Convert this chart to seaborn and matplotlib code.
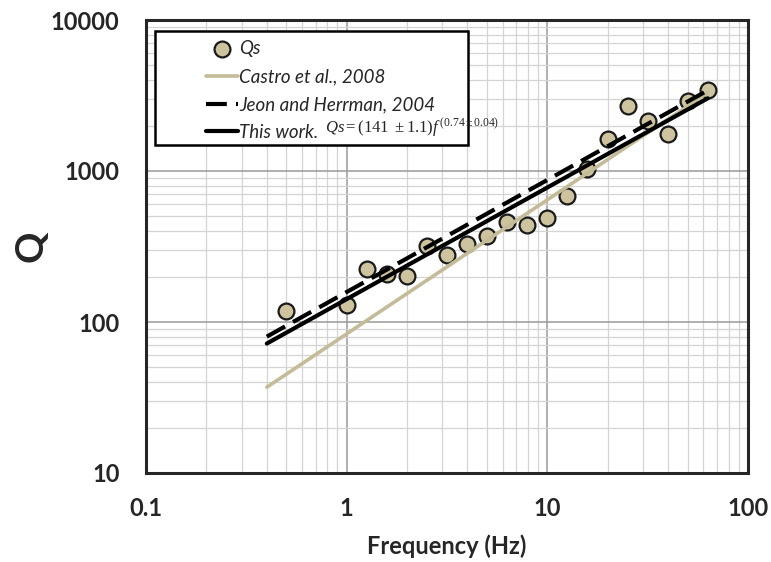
import numpy as np
import pandas as pd
import matplotlib
matplotlib.use('Agg')
import matplotlib.pyplot as plt
import seaborn as sns
from matplotlib.patches import Rectangle
from matplotlib.ticker import LogLocator, FixedLocator, FixedFormatter, NullFormatter

# Qs observations
freq = [0.5, 1.0, 1.26, 1.58, 2.0, 2.51, 3.16, 3.98, 5.01, 6.31,
        7.94, 10.0, 12.6, 15.8, 20.0, 25.1, 31.6, 39.8, 50.1, 63.1]
qs = [119, 130, 225, 208, 203, 320, 279, 328, 372, 462,
      440, 492, 678, 1028, 1630, 2680, 2130, 1770, 2920, 3430]

# model lines (end points)
castro_f = [0.4, 63]
castro_q = [37, 3300]
jeon_f = [0.4, 63]
jeon_q = [80, 3420]
this_f = [0.4, 63]
this_q = [72, 3030]

df = pd.DataFrame({'f': freq, 'Q': qs})

sns.set_style('white')
plt.rcParams['font.family'] = ['Lato', 'DejaVu Sans']
plt.rcParams['mathtext.fontset'] = 'custom'
plt.rcParams['mathtext.rm'] = 'Liberation Serif'
plt.rcParams['mathtext.it'] = 'Liberation Serif:italic'

W, H = 771, 562
fig = plt.figure(figsize=(W / 100, H / 100), dpi=100)
ax = fig.add_axes([146 / W, 1 - 473 / H, 602 / W, 453 / H])
ax.set_xscale('log')
ax.set_yscale('log')
ax.set_xlim(0.1, 100)
ax.set_ylim(10, 10000)

sns.scatterplot(data=df, x='f', y='Q', ax=ax, s=130, color='#cdc49f',
                edgecolor='#1a1a1a', linewidth=1.6, zorder=3, label='Qs')
sns.lineplot(x=castro_f, y=castro_q, ax=ax, color='#c4bc98', lw=2.6,
             zorder=4, label='Castro et al., 2008')
sns.lineplot(x=jeon_f, y=jeon_q, ax=ax, color='black', lw=3,
             zorder=4, label='Jeon and Herrman, 2004')
ax.lines[-1].set_dashes((5, 2.2))
sns.lineplot(x=this_f, y=this_q, ax=ax, color='black', lw=3,
             zorder=4, label='This work.')

# grid
ax.xaxis.set_minor_locator(LogLocator(base=10, subs=np.arange(2, 10)))
ax.yaxis.set_minor_locator(LogLocator(base=10, subs=np.arange(2, 10)))
ax.xaxis.set_minor_formatter(NullFormatter())
ax.yaxis.set_minor_formatter(NullFormatter())
ax.xaxis.set_major_locator(FixedLocator([0.1, 1, 10, 100]))
ax.xaxis.set_major_formatter(FixedFormatter(['0.1', '1', '10', '100']))
ax.yaxis.set_major_locator(FixedLocator([10, 100, 1000, 10000]))
ax.yaxis.set_major_formatter(FixedFormatter(['10', '100', '1000', '10000']))
ax.grid(which='major', color='#9a9a9a', lw=1.1, zorder=0)
ax.grid(which='minor', color='#d4d4d4', lw=0.9, zorder=0)
ax.set_axisbelow(True)
ax.tick_params(which='both', length=0, labelsize=17)
ax.tick_params(axis='y', pad=19)
ax.tick_params(axis='x', pad=17)
for lab in ax.get_xticklabels() + ax.get_yticklabels():
    lab.set_fontweight('bold')
for sp in ax.spines.values():
    sp.set_visible(True)
    sp.set_color('#262626')
    sp.set_linewidth(2.2)

ax.set_xlabel('Frequency (Hz)', fontsize=17, fontweight='bold', labelpad=11)
ax.set_ylabel('Q', fontsize=28, fontweight='bold', labelpad=2)

# legend box like the original
box = Rectangle((155 / W, 1 - 145 / H), 313 / W, 114 / H,
                transform=fig.transFigure, facecolor='white',
                edgecolor='black', lw=1.8, zorder=9, clip_on=False)
ax.add_patch(box)
leg = ax.legend(loc='upper left', bbox_to_anchor=(197 / W, 1 - 31 / H),
                bbox_transform=fig.transFigure, frameon=False, borderpad=0,
                prop={'style': 'italic', 'size': 13.5}, handlelength=1.7,
                handletextpad=0.05, labelspacing=0.58)
leg.set_zorder(10)

# formula next to the last legend entry, cut off by the box like the original
txt = leg.get_texts()[-1]
fig.canvas.draw()
bb = txt.get_window_extent().transformed(fig.transFigure.inverted())
formula = ax.text(bb.x1 + 0.008, bb.y0 + 0.004,
                  r'$Qs=(141\ \pm1.1)f^{\,(0.74\pm0.04)}$',
                  transform=fig.transFigure, fontsize=12, zorder=11,
                  va='bottom', ha='left')
formula.set_clip_path(box)

fig.savefig('out.png', dpi=100)
